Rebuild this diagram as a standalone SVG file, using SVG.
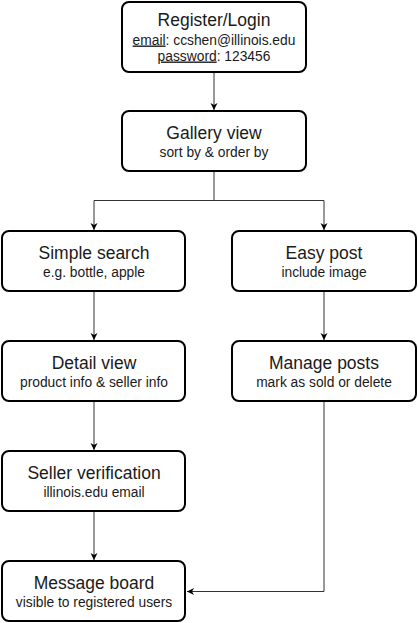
<svg xmlns="http://www.w3.org/2000/svg" width="418" height="623" viewBox="0 0 418 623">
<defs>
<style>
.box{fill:#fff;stroke:#000;stroke-width:2}
.t{font-family:"Liberation Sans",Arial,sans-serif;font-size:17.5px;fill:#1a1a1a;text-anchor:middle}
.s{font-family:"Liberation Sans",Arial,sans-serif;font-size:13.8px;fill:#1a1a1a;text-anchor:middle}
.u{text-decoration:underline}
.edge{fill:none;stroke:#333;stroke-width:1}
</style>
<marker id="arr" markerWidth="8" markerHeight="8" refX="7" refY="4" orient="auto" markerUnits="userSpaceOnUse">
<path d="M0,0.5 L7,4 L0,7.5 L2,4 Z" fill="#000"/>
</marker>
</defs>
<rect width="418" height="623" fill="#fff"/>
<g id="edges">
<path class="edge" d="M214,72 V110" marker-end="url(#arr)"/>
<path class="edge" d="M214,172 V200.5 H94 V230" marker-end="url(#arr)"/>
<path class="edge" d="M214,200.5 H324 V230" marker-end="url(#arr)"/>
<path class="edge" d="M94,292 V340" marker-end="url(#arr)"/>
<path class="edge" d="M324,292 V340" marker-end="url(#arr)"/>
<path class="edge" d="M94,402 V450" marker-end="url(#arr)"/>
<path class="edge" d="M94,512 V560" marker-end="url(#arr)"/>
<path class="edge" d="M324,402 V591.5 H187" marker-end="url(#arr)"/>
</g>
<g id="register">
<rect class="box" x="122" y="2" width="184" height="70" rx="7"/>
<text class="t" x="214" y="26">Register/Login</text>
<text class="s" x="214" y="44.5"><tspan class="u">email</tspan>: ccshen@illinois.edu</text>
<text class="s" x="214" y="60.5"><tspan class="u">password</tspan>: 123456</text>
</g>
<g id="gallery">
<rect class="box" x="122" y="111" width="184" height="60" rx="7"/>
<text class="t" x="214" y="139">Gallery view</text>
<text class="s" x="214" y="157">sort by &amp; order by</text>
</g>
<g id="search">
<rect class="box" x="2" y="231" width="183" height="60" rx="7"/>
<text class="t" x="94" y="258.5">Simple search</text>
<text class="s" x="94" y="276.5">e.g. bottle, apple</text>
</g>
<g id="easypost">
<rect class="box" x="232" y="231" width="184" height="60" rx="7"/>
<text class="t" x="324" y="258.5">Easy post</text>
<text class="s" x="324" y="276.5">include image</text>
</g>
<g id="detail">
<rect class="box" x="2" y="341" width="183" height="60" rx="7"/>
<text class="t" x="94" y="368.5">Detail view</text>
<text class="s" x="94" y="386.5">product info &amp; seller info</text>
</g>
<g id="manage">
<rect class="box" x="232" y="341" width="184" height="60" rx="7"/>
<text class="t" x="324" y="368.5">Manage posts</text>
<text class="s" x="324" y="386.5">mark as sold or delete</text>
</g>
<g id="verify">
<rect class="box" x="2" y="451" width="183" height="60" rx="7"/>
<text class="t" x="94" y="478.5">Seller verification</text>
<text class="s" x="94" y="496.5">illinois.edu email</text>
</g>
<g id="message">
<rect class="box" x="2" y="561" width="183" height="60" rx="7"/>
<text class="t" x="94" y="588.5">Message board</text>
<text class="s" x="94" y="606.5">visible to registered users</text>
</g>
</svg>
